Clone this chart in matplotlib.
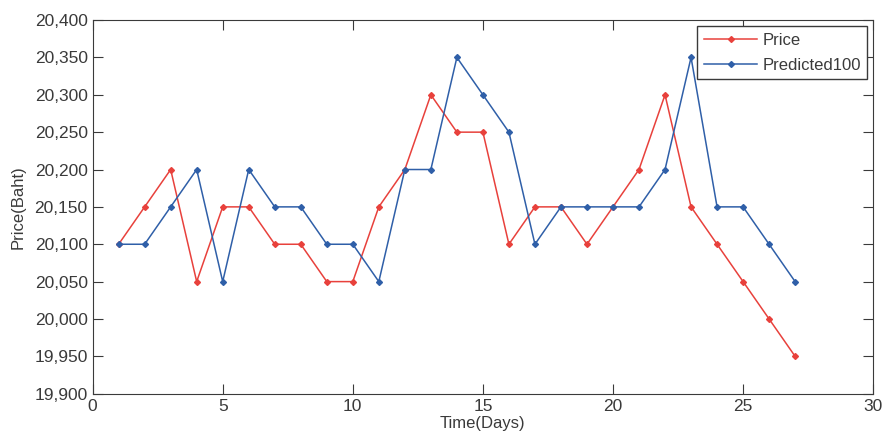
import matplotlib
matplotlib.use('Agg')
import matplotlib.pyplot as plt
from matplotlib.ticker import FuncFormatter

plt.rcParams['font.family'] = ['Liberation Sans', 'DejaVu Sans']

days = list(range(1, 28))
price = [20100, 20150, 20200, 20050, 20150, 20150, 20100, 20100, 20050, 20050,
         20150, 20200, 20300, 20250, 20250, 20100, 20150, 20150, 20100, 20150,
         20200, 20300, 20150, 20100, 20050, 20000, 19950]
predicted = [20100, 20100, 20150, 20200, 20050, 20200, 20150, 20150, 20100, 20100,
             20050, 20200, 20200, 20350, 20300, 20250, 20100, 20150, 20150, 20150,
             20150, 20200, 20350, 20150, 20150, 20100, 20050]

fig = plt.figure(figsize=(8.82, 4.36), dpi=100)
ax = fig.add_axes([0.105, 0.097, 0.885, 0.857])

ax.plot(days, price, color='#e8413c', marker='D', markersize=3, lw=1.1, label='Price')
ax.plot(days, predicted, color='#2f5fa8', marker='D', markersize=3, lw=1.1, label='Predicted100')

ax.set_xlim(0, 30)
ax.set_ylim(19900, 20400)
ax.set_xticks(range(0, 31, 5))
ax.set_yticks(range(19900, 20401, 50))
ax.yaxis.set_major_formatter(FuncFormatter(lambda v, p: f'{int(v):,}'))
ax.tick_params(direction='in', top=True, right=True, labelsize=12.5, colors='#3a3a3a', length=7)
for s in ax.spines.values():
    s.set_color('#3a3a3a')

ax.set_xlabel('Time(Days)', fontsize=12, labelpad=2, color='#3a3a3a')
ax.set_ylabel('Price(Baht)', fontsize=12, labelpad=6, color='#3a3a3a')

leg = ax.legend(loc='upper right', fontsize=12, fancybox=False, framealpha=1,
                edgecolor='#3a3a3a', handlelength=3.2, handletextpad=0.3,
                labelspacing=0.6, borderaxespad=0.35)
for t in leg.get_texts():
    t.set_color('#3a3a3a')

fig.savefig('out.png', dpi=100)
